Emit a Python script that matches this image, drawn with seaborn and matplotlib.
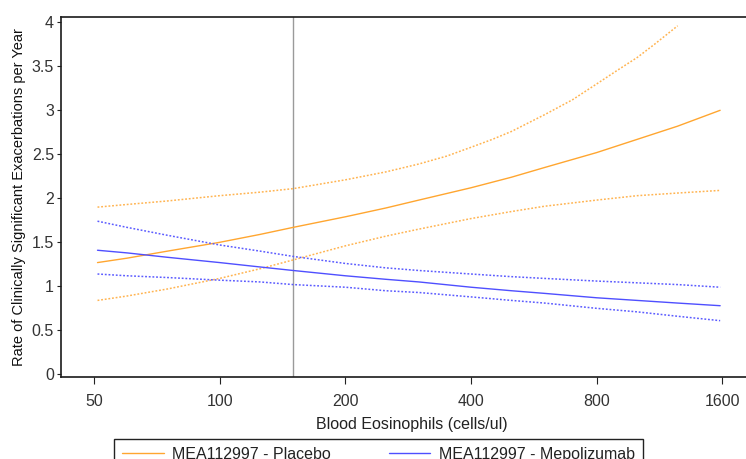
import numpy as np
import pandas as pd
import matplotlib
matplotlib.use("Agg")
import matplotlib.pyplot as plt
import seaborn as sns
from matplotlib.ticker import FixedLocator, NullLocator, FixedFormatter

# ---- data ----
eos = [51, 60, 75, 100, 125, 150, 200, 250, 300, 400, 500, 600, 800, 1000, 1250, 1580]
placebo_mean = [1.27, 1.32, 1.40, 1.50, 1.59, 1.67, 1.79, 1.89, 1.98, 2.12, 2.24, 2.35, 2.52, 2.67, 2.82, 3.00]
placebo_lower = [0.84, 0.89, 0.97, 1.09, 1.20, 1.30, 1.46, 1.57, 1.65, 1.77, 1.85, 1.91, 1.98, 2.03, 2.06, 2.09]
mepo_mean = [1.41, 1.38, 1.33, 1.27, 1.22, 1.18, 1.12, 1.08, 1.05, 0.99, 0.95, 0.92, 0.87, 0.84, 0.81, 0.78]
mepo_upper = [1.74, 1.67, 1.58, 1.47, 1.40, 1.34, 1.26, 1.21, 1.18, 1.14, 1.11, 1.09, 1.06, 1.04, 1.02, 0.99]
mepo_lower = [1.14, 1.12, 1.10, 1.07, 1.05, 1.02, 0.99, 0.95, 0.93, 0.88, 0.84, 0.81, 0.75, 0.71, 0.66, 0.61]
# upper limit of placebo leaves the top of the plot near 1250
eos_upper = [51, 60, 75, 100, 125, 150, 200, 250, 300, 350, 400, 450, 500, 600, 700, 800, 900, 1000, 1100, 1250]
placebo_upper = [1.90, 1.93, 1.97, 2.03, 2.07, 2.11, 2.21, 2.30, 2.39, 2.48, 2.58, 2.67, 2.76, 2.95, 3.12,
                 3.30, 3.46, 3.60, 3.75, 3.96]
cutoff = 150
x_ticks = [50, 100, 200, 400, 800, 1600]
y_ticks = [0, 0.5, 1, 1.5, 2, 2.5, 3, 3.5, 4]
y_tick_labels = ["0", "0.5", "1", "1.5", "2", "2.5", "3", "3.5", "4"]
series_labels = ["MEA112997 - Placebo", "MEA112997 - Mepolizumab"]

ORANGE = "#FFA630"
BLUE = "#4F4FFF"
ORANGE_CI = "#FFB451"
BLUE_CI = "#5C5CFF"

sns.set_theme(style="white")
plt.rcParams["font.family"] = ["Liberation Sans", "DejaVu Sans"]

fig = plt.figure(figsize=(7.46, 4.59), dpi=100)
ax = fig.add_axes([61 / 746, 1 - 377 / 459, (762 - 61) / 746, (377 - 17) / 459])

dot = (0, (1.2, 1.2))

sns.lineplot(x=eos, y=placebo_mean, ax=ax, color=ORANGE, lw=1.0, label=series_labels[0])
sns.lineplot(x=eos_upper, y=placebo_upper, ax=ax, color=ORANGE_CI, lw=1.1, linestyle=dot, label="_nolegend_")
sns.lineplot(x=eos, y=placebo_lower, ax=ax, color=ORANGE_CI, lw=1.1, linestyle=dot, label="_nolegend_")
sns.lineplot(x=eos, y=mepo_mean, ax=ax, color=BLUE, lw=1.0, label=series_labels[1])
sns.lineplot(x=eos, y=mepo_upper, ax=ax, color=BLUE_CI, lw=1.1, linestyle=dot, label="_nolegend_")
sns.lineplot(x=eos, y=mepo_lower, ax=ax, color=BLUE_CI, lw=1.1, linestyle=dot, label="_nolegend_")

ax.axvline(cutoff, color="#9a9a9a", lw=1.0, zorder=0)

ax.set_xscale("log")
ax.set_xlim(41.7, 1990)
ax.set_ylim(-0.03, 4.06)
ax.xaxis.set_major_locator(FixedLocator(x_ticks))
ax.xaxis.set_major_formatter(FixedFormatter([str(t) for t in x_ticks]))
ax.xaxis.set_minor_locator(NullLocator())
ax.yaxis.set_major_locator(FixedLocator(y_ticks))
ax.yaxis.set_major_formatter(FixedFormatter(y_tick_labels))

ax.tick_params(axis="x", which="major", bottom=True, length=5, width=0.8, color="#222222",
               labelsize=11.5, labelcolor="#333333", pad=7)
ax.tick_params(axis="y", which="major", left=True, length=3, width=0.8, color="#222222",
               labelsize=11.5, labelcolor="#333333", pad=2)

for side in ["left", "bottom", "top"]:
    ax.spines[side].set_visible(True)
    ax.spines[side].set_color("#1a1a1a")
    ax.spines[side].set_linewidth(1.2)
ax.spines["right"].set_visible(False)

ax.set_xlabel("Blood Eosinophils (cells/ul)", fontsize=11.5, color="#222222", labelpad=6)
ax.set_ylabel("Rate of Clinically Significant Exacerbations per Year", fontsize=10.5,
              color="#111111", labelpad=4)

if ax.legend_:
    ax.legend_.remove()
handles, labels = ax.get_legend_handles_labels()
leg = fig.legend(handles, labels, loc="upper left", bbox_to_anchor=(114 / 746, 1 - 439 / 459),
                 ncol=2, frameon=True, fancybox=False, framealpha=1, edgecolor="#222222",
                 fontsize=11.5, handlelength=2.6, handletextpad=0.55, columnspacing=3.6,
                 borderpad=0.5, borderaxespad=0)
leg.get_frame().set_linewidth(1.0)
for t in leg.get_texts():
    t.set_color("#222222")

fig.savefig("out.png", dpi=100)
